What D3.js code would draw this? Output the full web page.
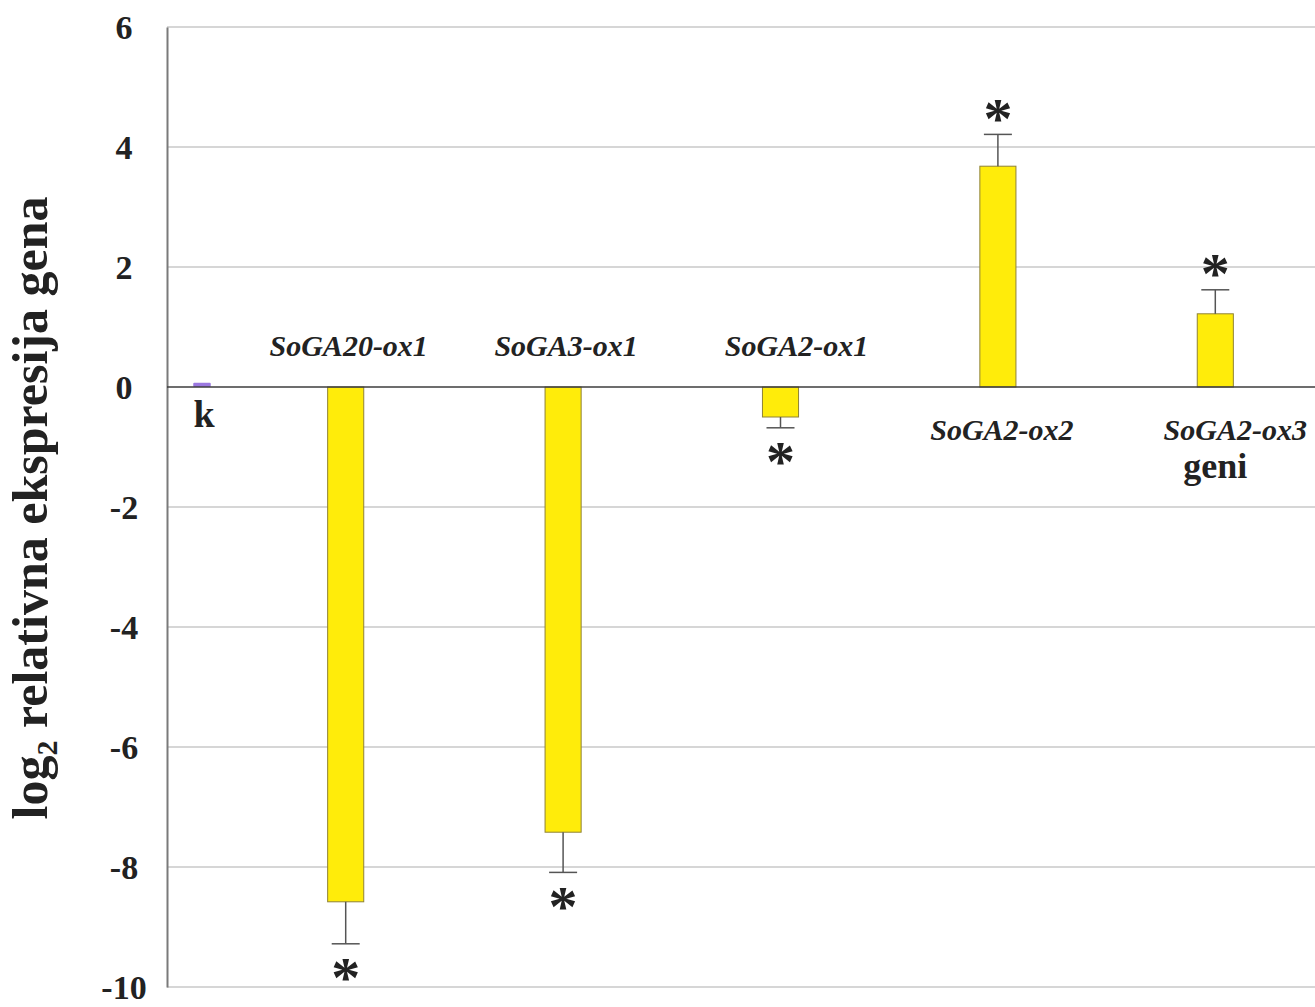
<!DOCTYPE html>
<html><head><meta charset="utf-8">
<script src="https://cdn.jsdelivr.net/npm/d3@7/dist/d3.min.js"></script>
<style>
html,body{margin:0;padding:0;background:#fff;}
svg{display:block;}
text{font-family:"Liberation Serif","Times New Roman",serif;font-weight:bold;fill:#222;}
</style></head>
<body>
<script>
// ---- data ----
const genes = ["SoGA20-ox1", "SoGA3-ox1", "SoGA2-ox1", "SoGA2-ox2", "SoGA2-ox3"];
const values = [-8.58, -7.42, -0.50, 3.68, 1.22];
const errors = [0.70, 0.67, 0.18, 0.53, 0.40];
const significant = [true, true, true, true, true];
const controlLabel = "k";
const controlValue = 0.07;
const yTicks = [-10, -8, -6, -4, -2, 0, 2, 4, 6];
const yTitle = "relativna ekspresija gena";
const xTitle = "geni";

// ---- layout ----
const W = 1315, H = 1007;
const axisX = 167, plotRight = 1324;
const controlRight = 237;
const labelDx = [3, 3, 16, 4, 20];
const svg = d3.select("body").append("svg").attr("width", W).attr("height", H);

const y = d3.scaleLinear().domain([-10, 6]).range([987, 27]);
const x = d3.scaleBand().domain(genes).range([controlRight, plotRight]).paddingInner(0.834).paddingOuter(0.417);
const xc = d3.scaleBand().domain([controlLabel]).range([axisX, controlRight]).padding(0.6);

// gridlines
svg.append("g").selectAll("line").data(yTicks.filter(d => d !== 0)).join("line")
  .attr("x1", axisX).attr("x2", W).attr("y1", d => y(d)).attr("y2", d => y(d))
  .attr("stroke", "#c8c8c8").attr("stroke-width", 1.5);

// y axis
const yAxis = d3.axisLeft(y).tickValues(yTicks).tickSize(0).tickPadding(0).tickFormat(d => String(d));
const gy = svg.append("g").attr("transform", `translate(${axisX},0)`).call(yAxis);
gy.select(".domain").attr("stroke", "#7a7a7a").attr("stroke-width", 2);
gy.selectAll(".tick text")
  .attr("x", 124 - axisX).attr("text-anchor", "middle").attr("dy", "0.34em")
  .style("font-family", '"Liberation Serif",serif').style("font-weight", "bold")
  .style("font-size", "34px").attr("fill", "#222");

// bars
const bars = genes.map((g, i) => ({g, i, v: values[i], e: errors[i], s: significant[i]}));
svg.append("g").selectAll("rect").data(bars).join("rect")
  .attr("x", d => x(d.g)).attr("width", x.bandwidth())
  .attr("y", d => y(Math.max(0, d.v))).attr("height", d => Math.abs(y(d.v) - y(0)))
  .attr("fill", "#ffec0a").attr("stroke", "#8f8236").attr("stroke-width", 1);

// control bar
svg.append("rect")
  .attr("x", xc(controlLabel)).attr("width", xc.bandwidth())
  .attr("y", y(controlValue)).attr("height", y(0) - y(controlValue))
  .attr("fill", "#9b78e0").attr("rx", 1);

// zero line
svg.append("line").attr("x1", axisX).attr("x2", W).attr("y1", y(0)).attr("y2", y(0))
  .attr("stroke", "#3c3c3c").attr("stroke-width", 1.5);

// error bars
const eg = svg.append("g").attr("stroke", "#555").attr("stroke-width", 1.5);
const cx = d => x(d.g) + x.bandwidth() / 2;
const errEnd = d => d.v < 0 ? d.v - d.e : d.v + d.e;
eg.selectAll("line.v").data(bars).join("line").attr("class", "v")
  .attr("x1", cx).attr("x2", cx).attr("y1", d => y(d.v)).attr("y2", d => y(errEnd(d)));
eg.selectAll("line.c").data(bars).join("line").attr("class", "c")
  .attr("x1", d => cx(d) - 14).attr("x2", d => cx(d) + 14)
  .attr("y1", d => y(errEnd(d))).attr("y2", d => y(errEnd(d)));

// asterisks
const astSize = 58;
svg.append("g").selectAll("text").data(bars.filter(d => d.s)).join("text")
  .attr("x", cx).attr("text-anchor", "middle")
  .attr("y", d => (d.v < 0 ? y(errEnd(d)) + 26 : y(errEnd(d)) - 24) + 0.47 * astSize)
  .style("font-size", astSize + "px").text("*");

// gene labels
svg.append("g").selectAll("text").data(bars).join("text")
  .attr("x", d => cx(d) + labelDx[d.i]).attr("text-anchor", "middle")
  .attr("y", d => d.v < 0 ? y(0) - 31 : y(0) + 53)
  .style("font-size", "30px").style("font-style", "italic")
  .text(d => d.g);

// control label
svg.append("text").attr("x", xc(controlLabel) + xc.bandwidth() / 2 + 2).attr("y", y(0) + 40)
  .attr("text-anchor", "middle").style("font-size", "38px").text(controlLabel);

// x title
svg.append("text").attr("x", x(genes[4]) + x.bandwidth() / 2).attr("y", y(0) + 91)
  .attr("text-anchor", "middle").style("font-size", "36px").text(xTitle);

// y title
const t = svg.append("text").attr("transform", `translate(47,508) rotate(-90)`)
  .attr("text-anchor", "middle").style("font-size", "50px");
t.append("tspan").text("log");
t.append("tspan").attr("dy", 10).style("font-size", "30px").text("2");
t.append("tspan").attr("dy", -10).text(" " + yTitle);
</script>
</body></html>
